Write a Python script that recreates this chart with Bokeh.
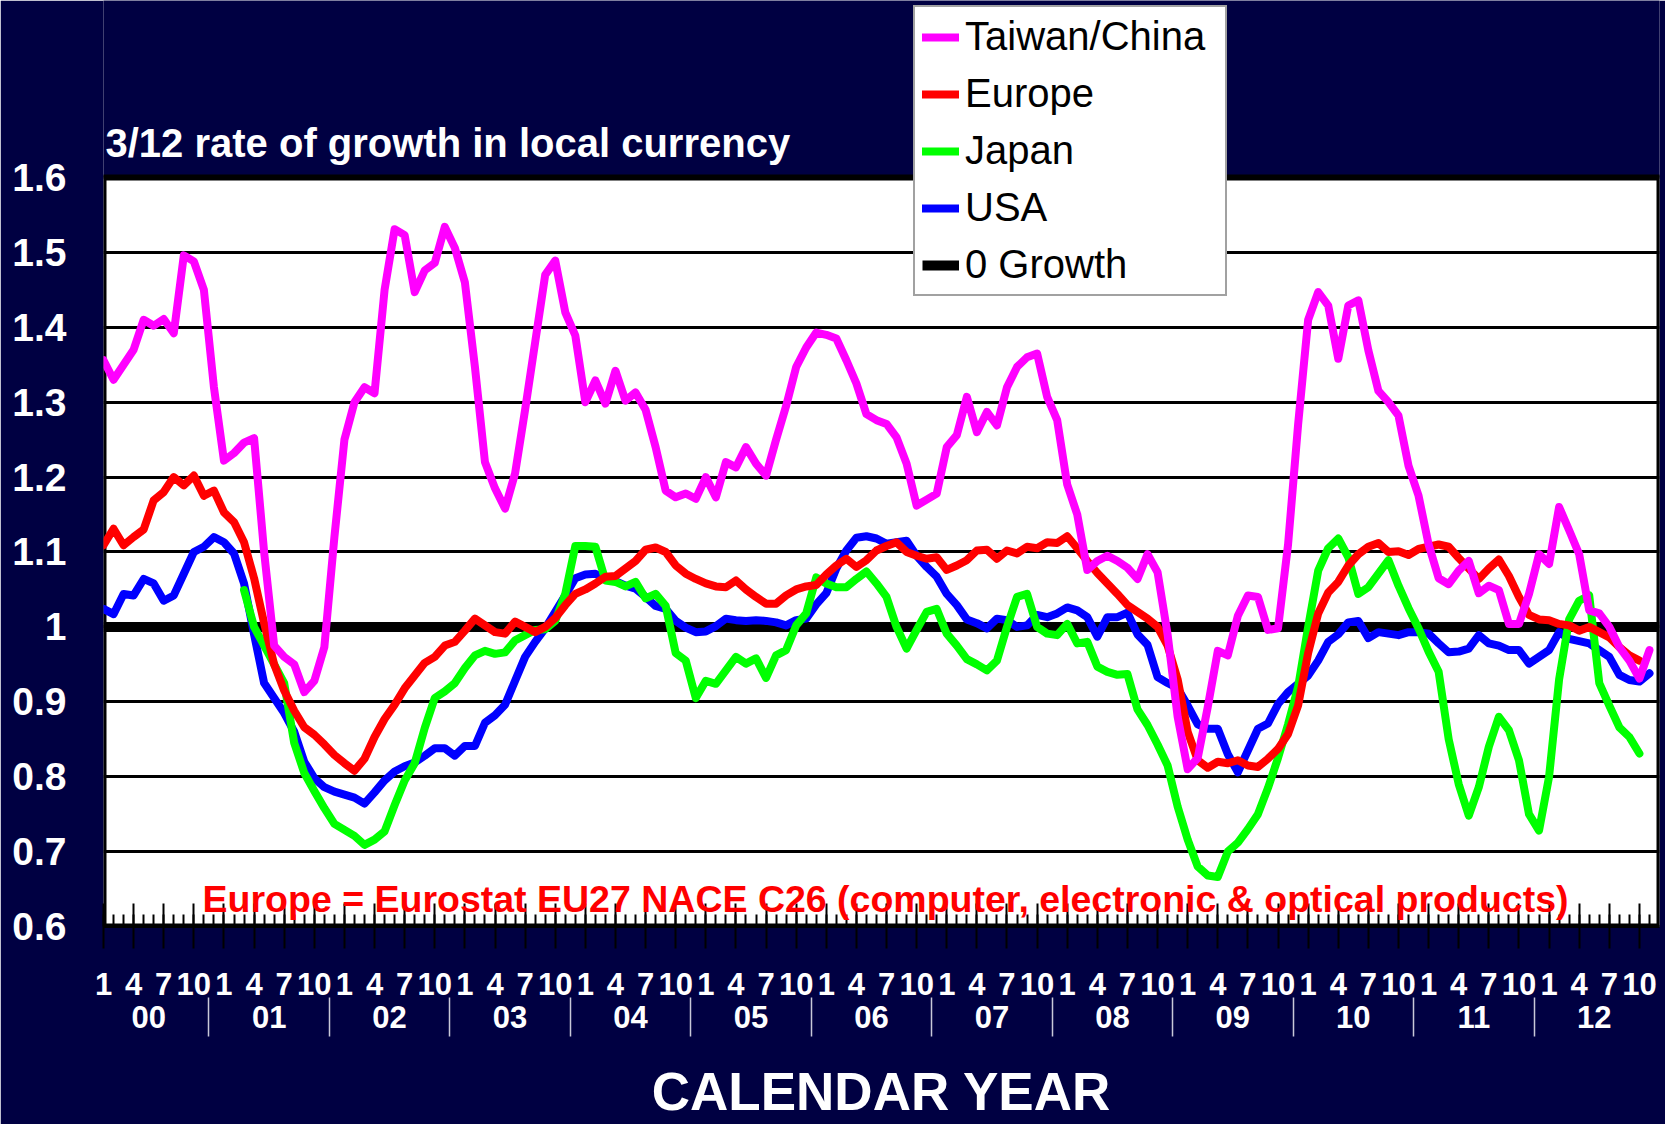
from bokeh.plotting import figure
from bokeh.models import Range1d, FixedTicker, LinearAxis, Legend, LegendItem, Label
from bokeh.embed import file_html
from bokeh.resources import INLINE

FONT = "Liberation Sans"
NAVY = "#000042"

# ---------------- data (monthly, index 0 = Jan 2000) ----------------
taiwan = [1.356, 1.330, 1.350, 1.370, 1.410, 1.402, 1.411, 1.392, 1.496, 1.488,
          1.450, 1.320, 1.222, 1.232, 1.246, 1.252, 1.100, 0.975, 0.960, 0.950,
          0.913, 0.928, 0.973, 1.120, 1.250, 1.300, 1.320, 1.312, 1.450, 1.531,
          1.523, 1.447, 1.476, 1.486, 1.534, 1.506, 1.460, 1.347, 1.220, 1.185,
          1.158, 1.205, 1.290, 1.380, 1.470, 1.489, 1.420, 1.389, 1.300, 1.329,
          1.298, 1.342, 1.302, 1.313, 1.290, 1.240, 1.182, 1.173, 1.178, 1.171,
          1.200, 1.173, 1.220, 1.213, 1.240, 1.218, 1.202, 1.250, 1.295, 1.347,
          1.373, 1.393, 1.390, 1.385, 1.356, 1.325, 1.284, 1.276, 1.271, 1.253,
          1.218, 1.162, 1.170, 1.178, 1.240, 1.256, 1.307, 1.260, 1.287, 1.269,
          1.320, 1.347, 1.360, 1.365, 1.307, 1.276, 1.190, 1.150, 1.076, 1.088,
          1.095, 1.088, 1.079, 1.064, 1.097, 1.073, 0.990, 0.880, 0.810, 0.825,
          0.893, 0.968, 0.962, 1.015, 1.042, 1.040, 0.996, 0.998, 1.110, 1.270,
          1.410, 1.447, 1.429, 1.358, 1.429, 1.436, 1.369, 1.315, 1.300, 1.282,
          1.215, 1.175, 1.110, 1.065, 1.057, 1.075, 1.088, 1.045, 1.055, 1.049,
          1.004, 1.004, 1.044, 1.097, 1.084, 1.160, 1.129, 1.097, 1.022, 1.018,
          1.000, 0.973, 0.955, 0.931, 0.969]

europe = [1.109, 1.131, 1.109, 1.120, 1.130, 1.169, 1.180, 1.200, 1.189, 1.202,
          1.175, 1.182, 1.153, 1.140, 1.113, 1.065, 1.005, 0.950, 0.915, 0.888,
          0.866, 0.856, 0.843, 0.829, 0.818, 0.808, 0.824, 0.853, 0.877, 0.896,
          0.918, 0.935, 0.952, 0.960, 0.975, 0.980, 0.995, 1.011, 1.002, 0.993,
          0.991, 1.007, 1.000, 0.993, 1.000, 1.012, 1.029, 1.044, 1.050, 1.058,
          1.067, 1.068, 1.078, 1.088, 1.103, 1.106, 1.100, 1.082, 1.071, 1.064,
          1.058, 1.054, 1.053, 1.062, 1.050, 1.040, 1.031, 1.031, 1.042, 1.050,
          1.054, 1.056, 1.070, 1.082, 1.091, 1.080, 1.089, 1.102, 1.108, 1.113,
          1.100, 1.095, 1.091, 1.093, 1.076, 1.082, 1.089, 1.102, 1.103, 1.091,
          1.102, 1.098, 1.107, 1.105, 1.113, 1.112, 1.121, 1.105, 1.088, 1.072,
          1.058, 1.044, 1.029, 1.020, 1.011, 1.000, 0.975, 0.930, 0.860, 0.822,
          0.812, 0.820, 0.818, 0.822, 0.815, 0.813, 0.824, 0.837, 0.857, 0.895,
          0.965, 1.018, 1.046, 1.060, 1.082, 1.097, 1.107, 1.112, 1.100, 1.101,
          1.096, 1.104, 1.107, 1.110, 1.107, 1.092, 1.078, 1.064, 1.078, 1.090,
          1.068, 1.040, 1.016, 1.010, 1.009, 1.004, 1.002, 0.995, 1.000, 0.993,
          0.986, 0.973, 0.962, 0.955]

usa = [1.024, 1.017, 1.044, 1.042, 1.064, 1.058, 1.035, 1.042, 1.071, 1.100,
       1.107, 1.120, 1.113, 1.098, 1.058, 0.990, 0.925, 0.905, 0.885, 0.860,
       0.820, 0.798, 0.786, 0.780, 0.776, 0.772, 0.764, 0.779, 0.795, 0.807,
       0.814, 0.819, 0.828, 0.838, 0.838, 0.828, 0.841, 0.841, 0.872, 0.882,
       0.896, 0.928, 0.960, 0.980, 0.998, 1.020, 1.042, 1.065, 1.070, 1.071,
       1.064, 1.061, 1.055, 1.051, 1.040, 1.028, 1.024, 1.008, 0.999, 0.993,
       0.994, 1.001, 1.011, 1.009, 1.008, 1.009, 1.008, 1.006, 1.002, 1.009,
       1.011, 1.030, 1.045, 1.078, 1.102, 1.119, 1.121, 1.118, 1.111, 1.113,
       1.115, 1.095, 1.080, 1.067, 1.044, 1.029, 1.010, 1.005, 0.998, 1.011,
       1.009, 1.000, 1.002, 1.016, 1.013, 1.018, 1.026, 1.022, 1.013, 0.987,
       1.013, 1.013, 1.019, 0.990, 0.976, 0.933, 0.925, 0.918, 0.895, 0.870,
       0.864, 0.864, 0.830, 0.806, 0.835, 0.864, 0.871, 0.897, 0.913, 0.924,
       0.935, 0.955, 0.980, 0.990, 1.006, 1.008, 0.985, 0.993, 0.991, 0.989,
       0.993, 0.993, 0.991, 0.978, 0.966, 0.967, 0.971, 0.989, 0.978, 0.975,
       0.969, 0.969, 0.951, 0.960, 0.969, 0.993, 0.984, 0.981, 0.978, 0.969,
       0.960, 0.936, 0.929, 0.927, 0.938]

japan_first_month = 14
japan = [1.049, 1.000, 0.975, 0.950, 0.925, 0.845,
         0.805, 0.781, 0.758, 0.737, 0.729, 0.721, 0.709, 0.716, 0.727, 0.762,
         0.795, 0.818, 0.865, 0.905, 0.914, 0.925, 0.945, 0.962, 0.968, 0.964,
         0.966, 0.982, 0.989, 0.996, 0.997, 1.008, 1.044, 1.108, 1.108, 1.107,
         1.062, 1.060, 1.054, 1.060, 1.038, 1.044, 1.028, 0.965, 0.955, 0.905,
         0.928, 0.924, 0.942, 0.960, 0.951, 0.958, 0.932, 0.962, 0.969, 1.002,
         1.018, 1.066, 1.058, 1.053, 1.053, 1.064, 1.074, 1.058, 1.040, 1.000,
         0.971, 0.996, 1.020, 1.024, 0.991, 0.975, 0.957, 0.950, 0.942, 0.955,
         1.000, 1.040, 1.044, 1.000, 0.991, 0.989, 1.004, 0.978, 0.980, 0.947,
         0.940, 0.936, 0.937, 0.890, 0.869, 0.843, 0.815, 0.760, 0.716, 0.680,
         0.668, 0.666, 0.700, 0.712, 0.730, 0.750, 0.785, 0.825, 0.870, 0.920,
         1.000, 1.075, 1.105, 1.118, 1.093, 1.044, 1.053, 1.071, 1.089, 1.055,
         1.025, 0.998, 0.967, 0.940, 0.850, 0.790, 0.748, 0.786, 0.840, 0.880,
         0.862, 0.822, 0.750, 0.728, 0.800, 0.930, 1.010, 1.035, 1.042, 0.925,
         0.895, 0.866, 0.853, 0.831]

zero_growth = 1.0

# axis / tick definitions
x_start, x_end = 0, 155
y_start, y_end = 0.6, 1.6
y_view_top = 1.8363          # navy band above the plot area (title + legend live there)
y_ticks = [0.6, 0.7, 0.8, 0.9, 1.0, 1.1, 1.2, 1.3, 1.4, 1.5, 1.6]
y_tick_labels = ["0.6", "0.7", "0.8", "0.9", "1", "1.1", "1.2", "1.3", "1.4", "1.5", "1.6"]
month_tick_positions = list(range(0, 154, 3))
month_tick_labels = ["1", "4", "7", "10"] * 13
year_labels = ["00", "01", "02", "03", "04", "05", "06", "07", "08", "09", "10", "11", "12"]
year_label_positions = [12 * k + 4.5 for k in range(len(year_labels))]
year_separators = [12 * k - 1.5 for k in range(1, len(year_labels))]

months_tw = list(range(len(taiwan)))
months_eu = list(range(len(europe)))
months_us = list(range(len(usa)))
months_jp = list(range(japan_first_month, japan_first_month + len(japan)))

# ---------------- figure ----------------
p = figure(width=1665, height=1124, output_backend="svg", toolbar_location=None,
           x_range=Range1d(x_start, x_end), y_range=Range1d(y_start, y_view_top),
           min_border_left=103, min_border_right=6, min_border_top=0, min_border_bottom=198,
           background_fill_color=NAVY, border_fill_color=NAVY,
           outline_line_color=None, title=None)

# white plot area with black border
p.quad(left=[x_start], right=[x_end], bottom=[y_start], top=[y_end],
       fill_color="white", line_color="black", line_width=6, level="image")

# y axis
ya = p.yaxis[0]
ya.ticker = FixedTicker(ticks=y_ticks)
ya.major_label_overrides = dict(zip(y_ticks, y_tick_labels))
ya.major_tick_in = 0
ya.major_tick_out = 0
ya.minor_tick_line_color = None
ya.axis_line_color = None
ya.major_label_standoff = 37
ya.major_label_text_font = FONT
ya.major_label_text_font_style = "bold"
ya.major_label_text_font_size = "39px"
ya.major_label_text_color = "white"

p.ygrid[0].ticker = FixedTicker(ticks=y_ticks)
p.ygrid[0].grid_line_color = "black"
p.ygrid[0].grid_line_width = 3
p.xgrid.visible = False

# month axis
xa = p.xaxis[0]
xa.ticker = FixedTicker(ticks=month_tick_positions, minor_ticks=months_tw)
xa.major_label_overrides = dict(zip(month_tick_positions, month_tick_labels))
xa.major_tick_in = 23
xa.major_tick_out = 22
xa.minor_tick_in = 12
xa.minor_tick_out = 0
xa.major_tick_line_color = "black"
xa.major_tick_line_width = 2
xa.minor_tick_line_color = "black"
xa.minor_tick_line_width = 2
xa.axis_line_color = "black"
xa.axis_line_width = 3
xa.major_label_standoff = 24
xa.major_label_text_font = FONT
xa.major_label_text_font_style = "bold"
xa.major_label_text_font_size = "31px"
xa.major_label_text_color = "white"

# year axis (labels + separators + axis title)
ya2 = LinearAxis(ticker=FixedTicker(ticks=year_label_positions, minor_ticks=year_separators),
                 major_label_overrides=dict(zip(year_label_positions, year_labels)),
                 major_tick_in=0, major_tick_out=0, minor_tick_in=0, minor_tick_out=39,
                 minor_tick_line_color="#c8c8d8", minor_tick_line_width=1.5,
                 axis_line_color=None, major_label_standoff=-31,
                 major_label_text_font=FONT, major_label_text_font_style="bold",
                 major_label_text_font_size="31px", major_label_text_color="white",
                 axis_label="CALENDAR YEAR", axis_label_standoff=31,
                 axis_label_text_font=FONT, axis_label_text_font_style="bold",
                 axis_label_text_font_size="53px", axis_label_text_color="white")
p.add_layout(ya2, "below")

# ---------------- lines ----------------
r_zero = p.line(x=[x_start, x_end], y=[zero_growth, zero_growth], line_color="black", line_width=10)
r_us = p.line(months_us, usa, line_color="#0000FF", line_width=8, line_join="round", line_cap="round")
r_jp = p.line(months_jp, japan, line_color="#00FF00", line_width=8, line_join="round", line_cap="round")
r_eu = p.line(months_eu, europe, line_color="#FF0000", line_width=8, line_join="round", line_cap="round")
r_tw = p.line(months_tw, taiwan, line_color="#FF00FF", line_width=8, line_join="round", line_cap="round")

legend = Legend(items=[LegendItem(label="Taiwan/China", renderers=[r_tw]),
                       LegendItem(label="Europe", renderers=[r_eu]),
                       LegendItem(label="Japan", renderers=[r_jp]),
                       LegendItem(label="USA", renderers=[r_us]),
                       LegendItem(label="0 Growth", renderers=[r_zero])],
                location=(810, 630), orientation="vertical",
                label_text_font=FONT, label_text_font_size="40px", label_text_color="black",
                background_fill_color="white", background_fill_alpha=1.0,
                border_line_color="#444444", border_line_width=2,
                padding=7, spacing=12, margin=0, glyph_width=37, glyph_height=20,
                label_standoff=6, label_height=44, label_width=253)
p.add_layout(legend)

# ---------------- texts ----------------
p.add_layout(Label(x=2, y=784, x_units="screen", y_units="screen",
                   text="3/12 rate of growth in local currency", text_align="left",
                   text_baseline="alphabetic", text_color="white", text_font=FONT,
                   text_font_style="bold", text_font_size="40px"))
p.add_layout(Label(x=77.9, y=0.637, text="Europe = Eurostat EU27 NACE C26 (computer, electronic & optical products)",
                   text_align="center", text_baseline="alphabetic", text_color="#FF0000",
                   text_font=FONT, text_font_style="bold", text_font_size="37.5px"))

open("out.html", "w").write(file_html(p, INLINE))
